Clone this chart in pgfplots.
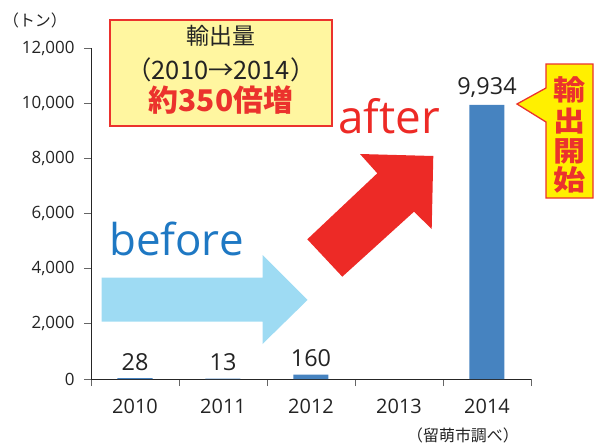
\documentclass[border=0pt]{standalone}
\usepackage{fontspec}
\usepackage{graphicx}
\usepackage{pgfplots}
\pgfplotsset{compat=1.18}
\setmainfont{Open Sans}
\newfontfamily\cjk{Noto Sans CJK JP}
\definecolor{barblue}{RGB}{70,131,192}
\definecolor{boxred}{RGB}{235,50,45}
\definecolor{arrred}{RGB}{237,42,38}
\definecolor{lyellow}{RGB}{255,246,160}
\definecolor{byellow}{RGB}{255,240,0}
\definecolor{befblue}{RGB}{30,120,195}
\definecolor{lblue}{RGB}{158,219,243}
\definecolor{txt}{RGB}{35,35,35}
\begin{document}
\begin{tikzpicture}
\path[use as bounding box] (0,0) rectangle (595bp,-445bp);
\begin{axis}[
  at={(91bp,-379bp)}, anchor=south west,
  scale only axis, width=440bp, height=331bp,
  xmin=-0.5, xmax=4.5, ymin=0, ymax=12000,
  axis x line*=bottom, axis y line*=left,
  axis line style={draw=black!85, line width=0.8pt},
  ytick={0,2000,...,12000},
  xtick={-0.5,0.5,...,4.5},
  x tick label as interval,
  xticklabels={2010,2011,2012,2013,2014},
  tick align=outside,
  major tick length=7bp,
  tick style={draw=black!60, line width=0.8pt},
  /pgf/number format/.cd, 1000 sep={,}, assume math mode=true, /pgfplots/.cd,
  scaled y ticks=false,
  yticklabel style={font=\fontsize{17}{19}\selectfont, text=txt, xshift=-6bp},
  xticklabel style={font=\fontsize{20}{22}\selectfont, text=txt, yshift=-10bp},
  ybar, bar width=35bp,
  nodes near coords,
  every node near coord/.append style={font=\fontsize{23.5}{25}\selectfont, text=txt, yshift=4bp},
  clip=false,
]
\addplot[fill=barblue, draw=none] coordinates {(0,28) (1,13) (2,160) (4,9934)};
\end{axis}
\begin{scope}[x=1bp,y=-1bp]
% units label
\node[font=\cjk\fontsize{16}{18}\selectfont, text=txt] at (35,20) {（トン）};
\node[font=\cjk\fontsize{16}{18}\selectfont, text=txt] at (463,435) {（留萌市調べ）};
% yellow box
\draw[boxred, fill=lyellow, line width=1.3pt] (110,20) rectangle (332,126);
\node[font=\cjk\fontsize{23}{25}\selectfont, text=txt] at (221,36) {輸出量};
\node[font=\cjk\fontsize{25.5}{27}\selectfont, text=txt] at (221,70) {（2010→2014）};
\node[font=\cjk\bfseries\fontsize{30}{32}\selectfont, text=boxred] at (221,100) {約350倍増};
% callout
\draw[boxred, fill=byellow, line width=1.3pt] (546,64) -- (593,64) -- (593,198) -- (546,198) -- (546,122) -- (517,104) -- (546,88) -- cycle;
\foreach \c/\yy in {輸/90,出/121,開/151,始/180}
  \node[font=\cjk\bfseries\fontsize{28}{30}\selectfont, text=boxred] at (570,\yy) {\scalebox{1.15}[1]{\c}};
% light blue arrow
\fill[lblue] (101.5,277.5) -- (262.5,277.5) -- (262.5,255) -- (307.5,300) -- (262.5,344) -- (262.5,321.5) -- (101.5,321.5) -- cycle;
\node[anchor=base west, inner sep=0pt, font=\fontsize{44}{46}\selectfont, text=befblue] at (109,255) {before};
% red arrow
\fill[arrred] (307.3,239.3) -- (377.3,173.3) -- (360,154) -- (433.3,156) -- (431.7,229) -- (414,211.7) -- (342.3,276.7) -- cycle;
\node[anchor=base west, inner sep=0pt, font=\fontsize{46}{48}\selectfont, text=arrred] at (338,133) {after};
\end{scope}
\end{tikzpicture}
\end{document}
